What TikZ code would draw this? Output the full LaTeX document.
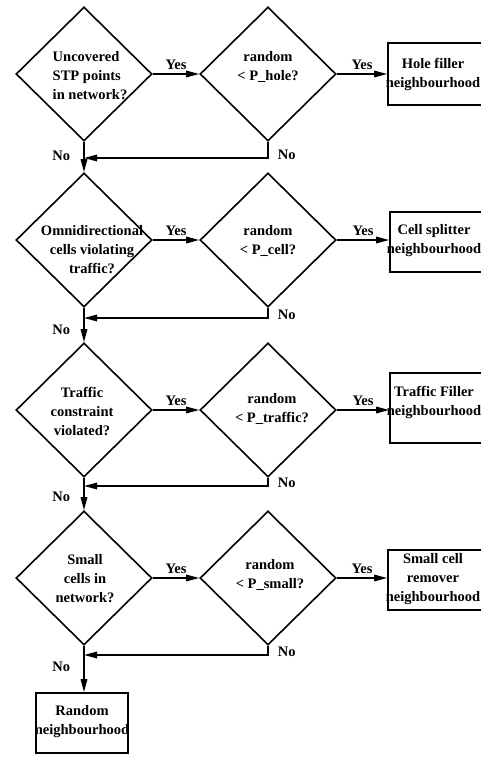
\documentclass[tikz,border=0pt]{standalone}
\usepackage{fontspec}
\setmainfont{Liberation Serif}
\usetikzlibrary{shapes.geometric, arrows.meta}
\begin{document}
\begin{tikzpicture}[x=1pt,y=-1pt,
  every node/.style={font=\fontsize{14.5}{19}\selectfont\bfseries},
  dia/.style={draw, diamond, line width=1.6pt, minimum width=136pt, minimum height=134pt, inner sep=0pt},
  txt/.style={align=center, inner sep=0pt},
  box/.style={draw, rectangle, line width=1.6pt, inner sep=0pt, minimum width=100pt},
  conn/.style={line width=1.6pt, -{Triangle[length=13pt,width=6.5pt]}},
  lab/.style={inner sep=1pt}]
\useasboundingbox (0,0) rectangle (481,758);

% row 1
\node[dia] (q1) at (84,74) {};
\node[txt, align=left] (t1) at (90,76) {Uncovered\\STP points\\in network?};
\node[dia] (r1) at (268,74) {};
\node[txt] (u1) at (268,67) {random\\< P\_hole?};
\node[box, minimum height=62pt] (b1) at (438,74) {};
\node[txt] (bt1) at (433,74) {Hole filler\\neighbourhood};

% row 2
\node[dia] (q2) at (84,240) {};
\node[txt] (t2) at (92,250) {Omnidirectional\\cells violating\\traffic?};
\node[dia] (r2) at (268,240) {};
\node[txt] (u2) at (268,241) {random\\< P\_cell?};
\node[box, minimum height=60pt] (b2) at (440,242) {};
\node[txt] (bt2) at (434,241) {Cell splitter\\neighbourhood};

% row 3
\node[dia] (q3) at (84,410) {};
\node[txt] (t3) at (82,411) {Traffic\\constraint\\violated?};
\node[dia] (r3) at (268,410) {};
\node[txt] (u3) at (272,409) {random\\< P\_traffic?};
\node[box, minimum height=70pt] (b3) at (440,408) {};
\node[txt] (bt3) at (434,402) {Traffic Filler\\neighbourhood};

% row 4
\node[dia] (q4) at (84,578) {};
\node[txt] (t4) at (85,579) {Small\\cells in\\network?};
\node[dia] (r4) at (268,578) {};
\node[txt] (u4) at (270,575) {random\\< P\_small?};
\node[box, minimum height=60pt] (b4) at (438,580) {};
\node[txt] (bt4) at (433,579) {Small cell\\remover\\neighbourhood};

\node[box, minimum width=92pt, minimum height=60pt] (rn) at (82,723) {};
\node[txt] (rt) at (82,722) {Random\\neighbourhood};

\coordinate (j1) at (84,158);
\coordinate (j2) at (84,318);
\coordinate (j3) at (84,486);
\coordinate (j4) at (84,655);

% Yes connectors
\draw[conn] (q1.east) -- node[lab, above=3pt]{Yes} (r1.west);
\draw[conn] (r1.east) -- node[lab, above=3pt]{Yes} (r1.east -| b1.west);
\draw[conn] (q2.east) -- node[lab, above=3pt]{Yes} (r2.west);
\draw[conn] (r2.east) -- node[lab, above=3pt]{Yes} (r2.east -| b2.west);
\draw[conn] (q3.east) -- node[lab, above=3pt]{Yes} (r3.west);
\draw[conn] (r3.east) -- node[lab, above=3pt]{Yes} (r3.east -| b3.west);
\draw[conn] (q4.east) -- node[lab, above=3pt]{Yes} (r4.west);
\draw[conn] (r4.east) -- node[lab, above=3pt]{Yes} (r4.east -| b4.west);

% No connectors
\draw[conn] (q1.south) -- node[lab, pos=0.47, left=12pt]{No} (q2.north);
\draw[conn] (q2.south) -- node[lab, pos=0.64, left=12pt]{No} (q3.north);
\draw[conn] (q3.south) -- node[lab, pos=0.59, left=12pt]{No} (q4.north);
\draw[conn] (q4.south) -- node[lab, pos=0.46, left=12pt]{No} (q4.south |- rn.north);

\draw[conn] (r1.south) |- node[lab, pos=0.4, right=8pt]{No} (j1);
\draw[conn] (r2.south) |- node[lab, pos=0.36, right=8pt]{No} (j2);
\draw[conn] (r3.south) |- node[lab, pos=0.33, right=8pt]{No} (j3);
\draw[conn] (r4.south) |- node[lab, pos=0.3, right=8pt]{No} (j4);
\end{tikzpicture}
\end{document}
